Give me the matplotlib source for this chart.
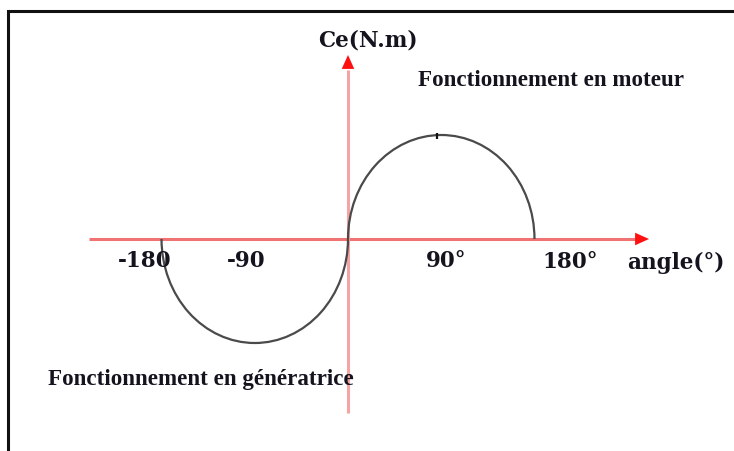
import matplotlib
matplotlib.use('Agg')
import matplotlib.pyplot as plt
from matplotlib.patches import Arc, Rectangle

# chart data
lobe_centers = [90, -90]        # angle (deg) at the middle of each lobe
lobe_peaks = [1.0, -1.0]        # normalised Ce at the top / bottom of each lobe
lobe_half_width = 90            # each lobe spans 180 deg
tick_labels = ['-180', '-90', '90°', '180°']
x_label = 'angle(°)'
y_label = 'Ce(N.m)'
note_motor = 'Fonctionnement en moteur'
note_gen = 'Fonctionnement en génératrice'

# picture geometry (pixels)
W, H = 734, 451
ORIGIN = (348, 239)
PX_PER_DEG = 1.036
PX_PER_UNIT = 104

fig = plt.figure(figsize=(W / 100, H / 100), dpi=100)
ax = fig.add_axes([0, 0, 1, 1])
ax.set_xlim(-ORIGIN[0] / PX_PER_DEG, (W - ORIGIN[0]) / PX_PER_DEG)
ax.set_ylim(-(H - ORIGIN[1]) / PX_PER_UNIT, ORIGIN[1] / PX_PER_UNIT)
ax.axis('off')


def to_data(px, py):
    return (px - ORIGIN[0]) / PX_PER_DEG, (ORIGIN[1] - py) / PX_PER_UNIT


# frame around the figure (runs off the right and bottom edges)
fig.patches.append(Rectangle((8 / W, -0.1), 1.2, 1 - 11 / H + 0.1,
                             transform=fig.transFigure, fill=False,
                             edgecolor='#111111', lw=2.2))

# axes lines
x0, _ = to_data(89, 0)
x1, _ = to_data(636, 0)
ax.plot([x0, x1], [0, 0], color='#f07272', lw=2.2, solid_capstyle='butt', zorder=2)
_, yb = to_data(0, 413)
_, yt = to_data(0, 70)
ax.plot([0, 0], [yb, yt], color='#f5a3a3', lw=2.2, solid_capstyle='butt', zorder=2)

# arrow heads
tipx, _ = to_data(649, 0)
ax.annotate('', xy=(tipx, 0), xytext=(x1 - 2, 0),
            arrowprops=dict(arrowstyle='-|>,head_length=1.0,head_width=0.45',
                            color='#ff1010', lw=0.01, shrinkA=0, shrinkB=0), zorder=3)
_, tipy = to_data(0, 55)
ax.annotate('', xy=(0, tipy), xytext=(0, yt - 0.02),
            arrowprops=dict(arrowstyle='-|>,head_length=1.0,head_width=0.45',
                            color='#ff1010', lw=0.01, shrinkA=0, shrinkB=0), zorder=3)

# curve: two half-ellipses
for c, p in zip(lobe_centers, lobe_peaks):
    t1, t2 = (0, 180) if p > 0 else (180, 360)
    ax.add_patch(Arc((c, 0), 2 * lobe_half_width, 2 * abs(p), theta1=t1, theta2=t2,
                     color='#4a4a4a', lw=1.6, zorder=4))

# small mark at the motor peak
ax.plot([lobe_centers[0] - 4], [lobe_peaks[0] - 0.01], marker='|', ms=5,
        mew=1.6, color='#111111', zorder=5)

serif_b = dict(family='DejaVu Serif', weight='bold', color='#14141f')
times_b = dict(family='Liberation Serif', weight='bold', color='#14141f')

# tick labels
tick_px = [(145, 261), (246, 261), (446, 261), (570, 262)]
for lab, (px, py) in zip(tick_labels, tick_px):
    fig.text(px / W, 1 - py / H, lab, ha='center', va='center', fontsize=15.5, **serif_b)

fig.text(676 / W, 1 - 263 / H, x_label, ha='center', va='center', fontsize=15.5, **serif_b)
fig.text(368 / W, 1 - 41 / H, y_label, ha='center', va='center', fontsize=15.5, **serif_b)

fig.text(418 / W, 1 - 81 / H, note_motor, ha='left', va='center', fontsize=16.6, **times_b)
fig.text(48 / W, 1 - 380 / H, note_gen, ha='left', va='center', fontsize=16.6, **times_b)

fig.savefig('out.png', dpi=100, facecolor='white')
